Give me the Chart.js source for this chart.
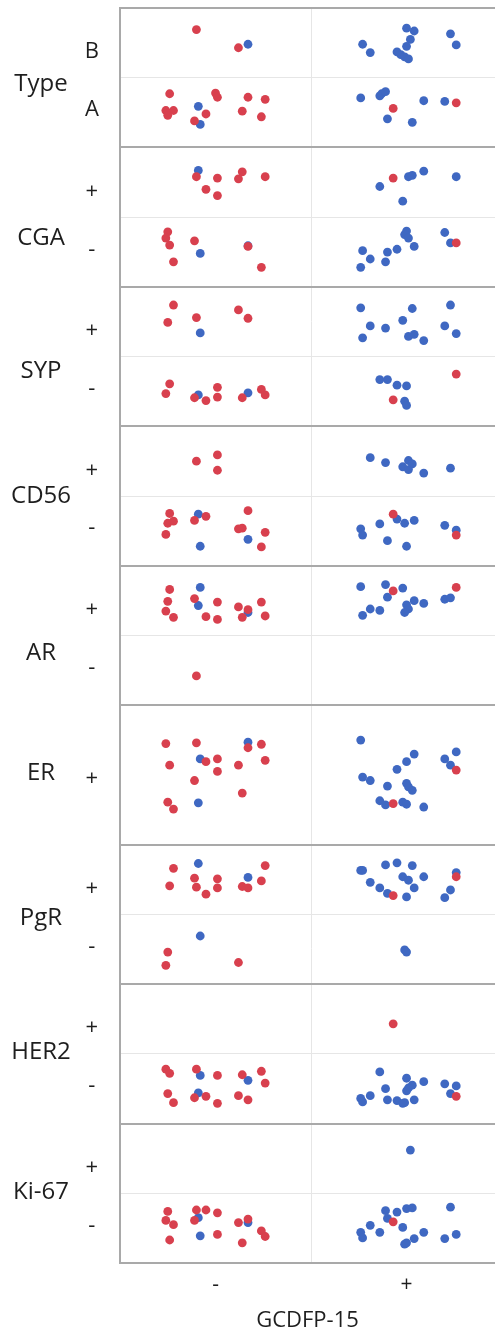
<!DOCTYPE html>
<html>
<head>
<meta charset="utf-8">
<script src="https://cdn.jsdelivr.net/npm/chart.js@4.4.0/dist/chart.umd.min.js"></script>
<style>
  html, body { margin: 0; padding: 0; background: #fff; }
  #wrap { width: 495px; height: 1334px; }
</style>
</head>
<body>
<div id="wrap"><canvas id="myChart" width="495" height="1334"></canvas></div>
<script>
// panels from top to bottom, levels listed bottom -> top
const panels = ['Type', 'CGA', 'SYP', 'CD56', 'AR', 'ER', 'PgR', 'HER2', 'Ki-67'];
const panelLevels = [['A', 'B'], ['-', '+'], ['-', '+'], ['-', '+'], ['-', '+'], ['+'], ['-', '+'], ['-', '+'], ['-', '+']];
const xLevels = ['-', '+'];
const xTitle = 'GCDFP-15';

// jittered points [x, y inside panel], x: 0-1 is "-", 1-2 is "+"; y: 0-1 lower level, 1-2 upper level
const typeRed = [[0.40,1.69],[0.62,1.43],
  [0.26,0.77],[0.50,0.78],[0.51,0.72],[0.67,0.72],[0.76,0.69],[0.24,0.53],[0.28,0.53],[0.25,0.46],[0.45,0.48],[0.64,0.52],[0.39,0.38],[0.74,0.44],
  [1.43,0.56],[1.76,0.64]];
const typeBlue = [[0.67,1.48],
  [1.50,1.71],[1.54,1.67],[1.52,1.55],[1.27,1.48],[1.50,1.45],[1.31,1.36],[1.45,1.37],[1.47,1.33],[1.49,1.30],[1.51,1.27],[1.73,1.63],[1.76,1.47],
  [0.41,0.59],[0.42,0.33],
  [1.26,0.71],[1.36,0.74],[1.37,0.77],[1.39,0.80],[1.59,0.67],[1.70,0.66],[1.40,0.41],[1.53,0.36]];

const cgaRed = [[0.40,1.58],[0.51,1.56],[0.64,1.65],[0.62,1.55],[0.76,1.58],[0.45,1.40],[0.51,1.31],
  [1.43,1.56],
  [0.25,0.79],[0.24,0.70],[0.26,0.60],[0.39,0.66],[0.67,0.58],[0.28,0.36],[0.74,0.28],
  [1.76,0.63]];
const cgaBlue = [[0.41,1.67],
  [1.36,1.44],[1.51,1.58],[1.53,1.60],[1.59,1.66],[1.76,1.58],[1.48,1.23],
  [0.42,0.48],[0.67,0.59],
  [1.50,0.80],[1.49,0.75],[1.51,0.70],[1.70,0.78],[1.73,0.63],[1.54,0.58],[1.45,0.54],[1.27,0.52],[1.40,0.50],[1.31,0.40],[1.39,0.36],[1.26,0.28]];

const sypRed = [[0.28,1.74],[0.25,1.49],[0.40,1.56],[0.62,1.67],[0.67,1.55],
  [0.26,0.61],[0.24,0.47],[0.39,0.41],[0.45,0.37],[0.51,0.56],[0.51,0.42],[0.64,0.41],[0.74,0.53],[0.76,0.45],
  [1.43,0.38],[1.76,0.75]];
const sypBlue = [[0.42,1.34],
  [1.26,1.70],[1.53,1.69],[1.73,1.74],[1.31,1.44],[1.39,1.41],[1.48,1.52],[1.70,1.44],[1.76,1.33],[1.27,1.27],[1.51,1.29],[1.54,1.32],[1.59,1.23],
  [0.41,0.45],[0.67,0.48],
  [1.36,0.67],[1.40,0.67],[1.45,0.59],[1.50,0.58],[1.49,0.36],[1.50,0.30]];

const cd56Red = [[0.40,1.50],[0.51,1.59],[0.51,1.37],
  [0.26,0.75],[0.25,0.61],[0.28,0.64],[0.24,0.45],[0.39,0.65],[0.45,0.71],[0.67,0.79],[0.62,0.53],[0.64,0.54],[0.76,0.48],[0.74,0.27],
  [1.43,0.74],[1.76,0.44]];
const cd56Blue = [[1.31,1.55],[1.39,1.48],[1.48,1.42],[1.51,1.51],[1.53,1.46],[1.51,1.38],[1.59,1.33],[1.73,1.40],
  [0.41,0.74],[0.67,0.38],[0.42,0.28],
  [1.26,0.53],[1.27,0.44],[1.36,0.60],[1.45,0.67],[1.49,0.61],[1.54,0.65],[1.40,0.36],[1.50,0.28],[1.70,0.58],[1.76,0.51]];

const arRed = [[0.26,1.66],[0.25,1.49],[0.24,1.35],[0.28,1.26],[0.39,1.53],[0.45,1.27],[0.51,1.48],[0.51,1.23],[0.62,1.41],[0.67,1.37],[0.64,1.26],[0.74,1.48],[0.76,1.28],
  [1.43,1.64],[1.76,1.69],
  [0.40,0.42]];
const arBlue = [[0.42,1.69],[0.41,1.43],[0.67,1.33],
  [1.26,1.70],[1.39,1.73],[1.48,1.68],[1.40,1.55],[1.27,1.29],[1.31,1.38],[1.36,1.36],[1.50,1.44],[1.51,1.38],[1.49,1.33],[1.54,1.50],[1.59,1.46],[1.70,1.52],[1.73,1.54]];

const erRed = [[0.24,1.45],[0.40,1.46],[0.74,1.44],[0.67,1.39],[0.45,1.19],[0.51,1.23],[0.76,1.21],[0.26,1.14],[0.62,1.14],[0.51,1.05],[0.39,0.92],[0.64,0.74],[0.25,0.61],[0.28,0.51],
  [1.76,1.07],[1.43,0.59]];
const erBlue = [[0.67,1.47],[0.42,1.23],[0.41,0.60],
  [1.26,1.50],[1.54,1.30],[1.76,1.33],[1.70,1.23],[1.73,1.14],[1.50,1.19],[1.45,1.08],[1.27,0.97],[1.31,0.92],[1.40,0.84],[1.50,0.88],[1.51,0.83],[1.53,0.78],[1.36,0.63],[1.39,0.57],[1.48,0.61],[1.50,0.58],[1.59,0.54]];

const pgrRed = [[0.28,1.66],[0.26,1.41],[0.39,1.52],[0.40,1.39],[0.45,1.29],[0.51,1.51],[0.51,1.38],[0.64,1.40],[0.67,1.38],[0.74,1.48],[0.76,1.70],
  [1.43,1.27],[1.76,1.54],
  [0.25,0.46],[0.24,0.27],[0.62,0.31]];
const pgrBlue = [[0.41,1.73],[0.67,1.53],
  [1.26,1.63],[1.27,1.63],[1.39,1.71],[1.45,1.74],[1.53,1.70],[1.48,1.54],[1.51,1.49],[1.59,1.54],[1.76,1.60],[1.31,1.46],[1.36,1.38],[1.54,1.38],[1.73,1.35],[1.40,1.30],[1.50,1.25],[1.70,1.24],
  [0.42,0.69],
  [1.49,0.49],[1.50,0.46]];

const her2Red = [[1.43,1.43],
  [0.24,0.78],[0.26,0.72],[0.40,0.78],[0.51,0.69],[0.64,0.70],[0.74,0.75],[0.76,0.58],[0.25,0.43],[0.28,0.30],[0.39,0.37],[0.45,0.39],[0.51,0.29],[0.62,0.40],[0.67,0.34],
  [1.76,0.39]];
const her2Blue = [[0.42,0.69],[0.67,0.62],[0.41,0.44],
  [1.36,0.74],[1.50,0.65],[1.59,0.60],[1.70,0.57],[1.76,0.54],[1.53,0.55],[1.51,0.51],[1.50,0.47],[1.39,0.50],[1.73,0.43],[1.31,0.40],[1.26,0.36],[1.27,0.31],[1.40,0.34],[1.45,0.33],[1.48,0.29],[1.49,0.30],[1.54,0.34]];

const ki67Red = [[0.25,0.74],[0.24,0.61],[0.28,0.55],[0.26,0.33],[0.40,0.76],[0.45,0.76],[0.51,0.72],[0.39,0.61],[0.51,0.41],[0.62,0.58],[0.67,0.63],[0.74,0.46],[0.76,0.38],[0.64,0.29],
  [1.43,0.59]];
const ki67Blue = [[1.52,1.62],
  [0.41,0.65],[0.67,0.58],[0.42,0.39],
  [1.39,0.75],[1.45,0.73],[1.50,0.78],[1.53,0.79],[1.73,0.80],[1.40,0.64],[1.48,0.51],[1.31,0.54],[1.26,0.44],[1.27,0.36],[1.36,0.44],[1.59,0.44],[1.76,0.41],[1.54,0.35],[1.70,0.35],[1.49,0.27],[1.50,0.29]];

const redByPanel = [typeRed, cgaRed, sypRed, cd56Red, arRed, erRed, pgrRed, her2Red, ki67Red];
const blueByPanel = [typeBlue, cgaBlue, sypBlue, cd56Blue, arBlue, erBlue, pgrBlue, her2Blue, ki67Blue];

// layout: where labels sit inside a panel (panel units 0..2)
const levelLabelPos2 = [0.54, 1.37];
const levelLabelPos1 = [0.94];
const panelLabelPos = [0.91, 0.70, 0.79, 1.0, 0.75, 1.03, 0.95, 1.02, 1.02];

const RED = '#d8404e';
const BLUE = '#3f68c2';
const BORDER = '#a9a9a9';
const GRID = '#e6e6e6';
const TEXT = '#1e1e1e';
const FONT = "'Open Sans', sans-serif";
const nPanels = panels.length;
const yMax = nPanels * 2;

function panelBase(i) {
    return (nPanels - 1 - i) * 2;
}

function toPoints(list) {
    let out = [];
    list.forEach((arr, i) => {
        const base = panelBase(i);
        arr.forEach(p => out.push({x: p[0], y: base + p[1]}));
    });
    return out;
}

// ticks for the three left axes
let gridTicks = [], levelTicks = [], panelTicks = [];
panels.forEach((name, i) => {
    const base = panelBase(i);
    const levels = panelLevels[i];
    gridTicks.push({value: base});
    if (levels.length == 2) gridTicks.push({value: base + 1});
    const pos = levels.length == 2 ? levelLabelPos2 : levelLabelPos1;
    levels.forEach((lab, k) => levelTicks.push({value: base + pos[k], label: lab}));
    panelTicks.push({value: base + panelLabelPos[i], label: name});
});
gridTicks.push({value: yMax});

function noPad(axis) {
    axis.paddingTop = 0;
    axis.paddingBottom = 0;
    axis.paddingLeft = 0;
    axis.paddingRight = 0;
}

const ctx = document.getElementById('myChart').getContext('2d');
const myChart = new Chart(ctx, {
    type: 'scatter',
    data: {
        datasets: [{
            label: 'red',
            data: toPoints(redByPanel),
            backgroundColor: RED,
            borderColor: RED,
            borderWidth: 0,
            pointRadius: 4.4
        }, {
            label: 'blue',
            data: toPoints(blueByPanel),
            backgroundColor: BLUE,
            borderColor: BLUE,
            borderWidth: 0,
            pointRadius: 4.4
        }]
    },
    options: {
        responsive: false,
        animation: false,
        events: [],
        layout: {autoPadding: false, padding: {top: 8, right: 0, bottom: 0, left: 0}},
        plugins: {legend: {display: false}, tooltip: {enabled: false}},
        scales: {
            x: {
                type: 'linear',
                min: 0,
                max: 1.963,
                afterBuildTicks: axis => { axis.ticks = [{value: 0.5}, {value: 1}, {value: 1.5}]; },
                afterFit: axis => { axis.height = 71; noPad(axis); },
                ticks: {
                    autoSkip: false,
                    maxRotation: 0,
                    padding: 9,
                    color: TEXT,
                    font: {family: FONT, size: 21},
                    callback: v => (v == 1 ? '' : xLevels[Math.floor(v)])
                },
                grid: {
                    drawTicks: false,
                    color: c => (c.tick && c.tick.value == 1 ? GRID : 'rgba(0,0,0,0)'),
                    lineWidth: 1
                },
                border: {color: BORDER, width: 2},
                title: {
                    display: true,
                    text: xTitle,
                    color: TEXT,
                    font: {family: FONT, size: 22},
                    padding: {top: 0, bottom: 0}
                }
            },
            y: {
                type: 'linear',
                position: 'left',
                weight: 0,
                min: 0,
                max: yMax,
                afterBuildTicks: axis => { axis.ticks = gridTicks.map(t => ({value: t.value})); },
                afterFit: axis => { axis.width = 0; noPad(axis); },
                ticks: {display: false},
                grid: {
                    drawTicks: false,
                    color: c => (c.tick && c.tick.value % 2 == 0 ? BORDER : GRID),
                    lineWidth: c => (c.tick && c.tick.value % 2 == 0 ? 2 : 1)
                },
                border: {color: BORDER, width: 2}
            },
            yLevel: {
                type: 'linear',
                position: 'left',
                weight: 1,
                min: 0,
                max: yMax,
                afterBuildTicks: axis => { axis.ticks = levelTicks.map(t => ({value: t.value})); },
                afterFit: axis => { axis.width = 45; noPad(axis); },
                ticks: {
                    autoSkip: false,
                    crossAlign: 'center',
                    padding: 13,
                    color: TEXT,
                    font: {family: FONT, size: 22},
                    callback: (v, i) => levelTicks[i].label
                },
                grid: {display: false},
                border: {display: false}
            },
            yPanel: {
                type: 'linear',
                position: 'left',
                weight: 2,
                min: 0,
                max: yMax,
                afterBuildTicks: axis => { axis.ticks = panelTicks.map(t => ({value: t.value})); },
                afterFit: axis => { axis.width = 75; noPad(axis); },
                ticks: {
                    autoSkip: false,
                    crossAlign: 'center',
                    padding: -4,
                    color: TEXT,
                    font: {family: FONT, size: 24},
                    callback: (v, i) => panelTicks[i].label
                },
                grid: {display: false},
                border: {display: false}
            }
        }
    }
});
</script>
</body>
</html>
